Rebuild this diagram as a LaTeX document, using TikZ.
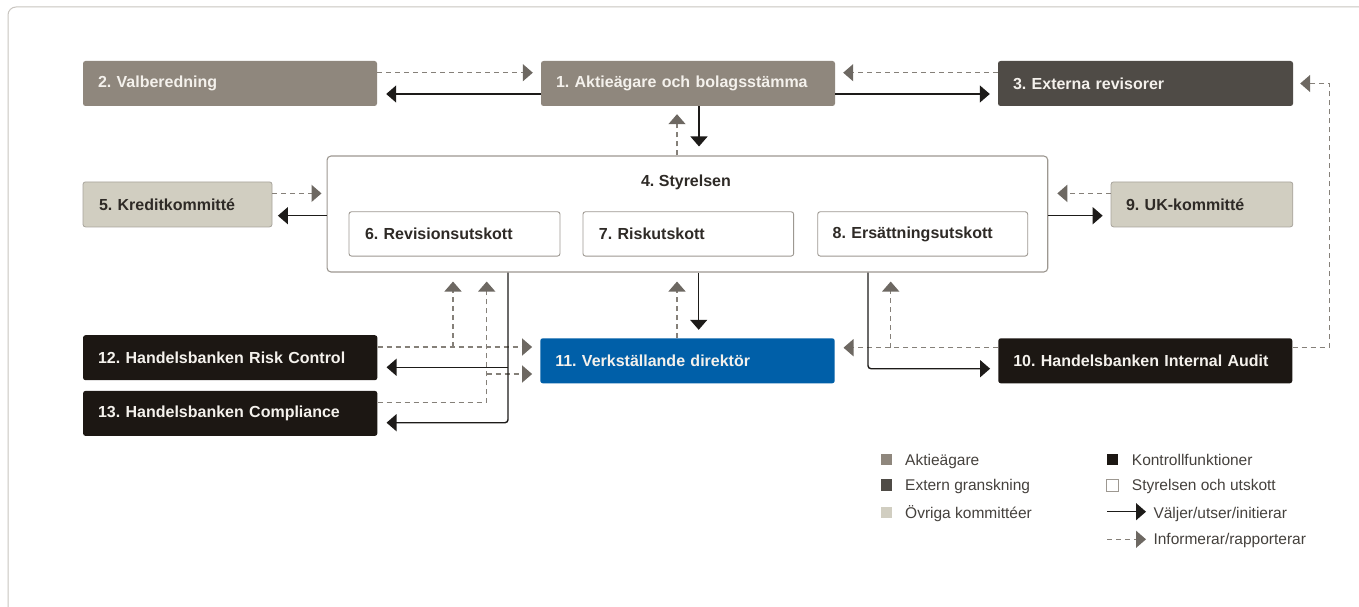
\documentclass[tikz,border=0pt]{standalone}
\usepackage{fontspec}
\setmainfont{Liberation Sans}
\usetikzlibrary{arrows.meta,calc}
\frenchspacing
\definecolor{cAkt}{HTML}{8F877D}
\definecolor{cExt}{HTML}{4F4B46}
\definecolor{cOvr}{HTML}{D1CEC1}
\definecolor{cOvrB}{HTML}{A8A49C}
\definecolor{cKon}{HTML}{1C1713}
\definecolor{cCeo}{HTML}{005FA8}
\definecolor{cBrd}{HTML}{9D9891}
\definecolor{cTxtL}{HTML}{F4F1EC}
\definecolor{cTxtD}{HTML}{2E2A26}
\definecolor{cDash}{HTML}{858079}
\definecolor{cDashTip}{HTML}{6D6862}
\definecolor{cSol}{HTML}{1D1B19}
\definecolor{cFrame}{HTML}{C9C5C0}
\definecolor{cLeg}{HTML}{45413D}
\newcommand\mylblfont{\frenchspacing\bfseries\fontsize{16}{19}\selectfont}
\newcommand\myleg{\frenchspacing\fontsize{15.5}{18}\selectfont}
\tikzset{
  bx/.style={rectangle, rounded corners=2.5pt, minimum height=45pt, inner xsep=15pt, inner ysep=0pt, align=left, font=\mylblfont},
  sol/.style={draw=cSol, line width=1.4pt, -{Triangle[length=10pt,width=17pt]}},
  dsh/.style={draw=cDash, line width=1.4pt, dash pattern=on 5pt off 4pt, -{Triangle[length=10pt,width=17pt,color=cDashTip]}},
  sq/.style={rectangle, minimum size=11.5pt, inner sep=0pt},
  lgt/.style={anchor=base west, inner sep=0pt, font=\myleg, text=cLeg},
}
\begin{document}
\begin{tikzpicture}[x=1pt,y=-1pt]
\useasboundingbox (0,0) rectangle (1359,607);
\fill[white] (0,0) rectangle (1359,607);
\draw[cFrame, line width=1pt, rounded corners=8pt] (8,640) -- (8,7) -- (1400,7);

% boxes
\node[bx, fill=cAkt, text=cTxtL, text width=264pt] (b2) at (230,83.5) {2. Valberedning};
\node[bx, fill=cAkt, text=cTxtL, text width=264pt] (b1) at (688,83.5) {1. Aktieägare och bolagsstämma};
\node[bx, fill=cExt, text=cTxtL, text width=265pt] (b3) at (1145.5,83.5) {3. Externa revisorer};
\node[rectangle, rounded corners=4pt, draw=cBrd, line width=1.1pt, fill=white, minimum width=720.7pt, minimum height=116pt, inner sep=0pt] (brd) at (687.4,214) {};
\node[font=\mylblfont, text=cTxtD] (brdt) at (686,182) {4. Styrelsen};
\node[bx, fill=cOvr, draw=cOvrB, line width=0.8pt, text=cTxtD, inner xsep=16pt, text width=157pt] (b5) at (177.5,204.4) {5. Kreditkommitté};
\node[bx, fill=cOvr, draw=cOvrB, line width=0.8pt, text=cTxtD, text width=151.7pt] (b9) at (1201.9,204.4) {9. UK-kommitté};
\node[bx, fill=white, draw=cBrd, line width=0.9pt, text=cTxtD, minimum height=44.3pt, inner xsep=16pt, text width=179pt] (b6) at (454.5,233.9) {6. Revisionsutskott};
\node[bx, fill=white, draw=cBrd, line width=0.9pt, text=cTxtD, minimum height=44.3pt, inner xsep=16pt, text width=178.7pt] (b7) at (688.3,233.9) {7. Riskutskott};
\node[bx, fill=white, draw=cBrd, line width=0.9pt, text=cTxtD, minimum height=44.3pt, text width=180pt] (b8) at (922.7,233.9) {8. Ersättningsutskott};
\node[bx, fill=cKon, text=cTxtL, text width=264.3pt] (b12) at (230.2,357.7) {12. Handelsbanken Risk Control};
\node[bx, fill=cKon, text=cTxtL, text width=264.3pt] (b13) at (230.2,413.4) {13. Handelsbanken Compliance};
\node[bx, fill=cCeo, text=cTxtL, text width=264.4pt] (ceo) at (687.5,360.8) {11. Verkställande direktör};
\node[bx, fill=cKon, text=cTxtL, text width=264pt] (b10) at (1145.3,360.8) {10. Handelsbanken Internal Audit};

% helper coordinates
\coordinate (a1) at ([yshift=10.8pt]b2.east);
\coordinate (a2) at ([yshift=-10.5pt]b1.west);
\coordinate (a3) at ([yshift=10.8pt]b3.west);
\coordinate (a4) at ([yshift=-10.5pt]b1.east);
\coordinate (a5) at ([xshift=11pt]b1.south);
\coordinate (a6) at ([xshift=-11pt]b1.south);
\coordinate (a7) at ([yshift=11pt]b5.east);
\coordinate (a8) at ([yshift=-11.3pt]b5.east);
\coordinate (a9) at ([yshift=11pt]b9.west);
\coordinate (a10) at ([yshift=-11.3pt]b9.west);
\coordinate (a11) at ([xshift=11.2pt]ceo.north);
\coordinate (a12) at ([xshift=-10.5pt]ceo.north);
\coordinate (r1) at ([yshift=10.7pt]b12.east);
\coordinate (ux1) at ([xshift=-1.5pt]b6.south);
\coordinate (c1) at ([yshift=11.1pt]b13.east);
\coordinate (ux2) at ([xshift=32.2pt]b6.south);
\coordinate (c2) at ([yshift=-13.2pt]ceo.west);
\coordinate (sx) at ([xshift=53.5pt]b6.south);
\coordinate (s12) at ([yshift=-9.6pt]b12.east);
\coordinate (s13) at ([yshift=-9.3pt]b13.east);
\coordinate (ix) at ([xshift=-54.7pt]b8.south);
\coordinate (i10) at ([yshift=-7.9pt]b10.west);
\coordinate (d10) at ([yshift=13.1pt]b10.west);
\coordinate (ux3) at ([xshift=-32pt]b8.south);
\coordinate (rx) at ([xshift=36.7pt]b10.east);

% dashed connectors
\draw[dsh, shorten >=8pt] (a1) -- (a1 -| b1.west);
\draw[dsh, shorten >=8pt] (a3) -- (a3 -| b1.east);
\draw[dsh, shorten >=8pt] (a6 |- brd.north) -- (a6);
\draw[dsh, shorten >=5pt] (a7) -- (a7 -| brd.west);
\draw[dsh, shorten >=9pt] (a9) -- (a9 -| brd.east);
\draw[dsh, shorten >=9pt] (a12) -- (a12 |- brd.south);
\draw[dsh, shorten >=8pt] (r1) -- (r1 -| ceo.west);
\draw[dsh, shorten >=9pt] (ux1 |- r1) -- (ux1 |- brd.south);
\draw[dsh, shorten >=9pt] (c1) -- (c1 -| ux2) -- (ux2 |- brd.south);
\draw[dsh, shorten >=8pt] (c2 -| ux2) -- (c2);
\draw[dsh, shorten >=8.6pt] (d10) -- (d10 -| ceo.east);
\draw[dsh, shorten >=9pt] (ux3 |- d10) -- (ux3 |- brd.south);
\draw[dsh, shorten >=7pt] (d10 -| b10.east) -- (d10 -| rx) -- (rx |- b3.east) -- (b3.east);

% solid connectors
\draw[sol, shorten >=9pt] (a2) -- (a2 -| b2.east);
\draw[sol, shorten >=8pt] (a4) -- (a4 -| b3.west);
\draw[sol, shorten >=9pt] (a5) -- (a5 |- brd.north);
\draw[sol, shorten >=5.5pt] (a8 -| brd.west) -- (a8);
\draw[sol, shorten >=8pt] (a10 -| brd.east) -- (a10);
\draw[sol, shorten >=8.3pt] (a11 |- brd.south) -- (a11);
\draw[sol, shorten >=9pt, rounded corners=3pt] (sx |- brd.south) |- (s13);
\draw[sol, shorten >=9pt] (sx |- s12) -- (s12);
\draw[sol, shorten >=8pt, rounded corners=3pt] (ix |- brd.south) |- (i10);

% legend
\node[sq, fill=cAkt] (lq1) at (886.5,459.5) {};
\node[lgt] (lt1) at (905,465.2) {Aktieägare};
\node[sq, fill=cExt] (lq2) at (886.5,485.2) {};
\node[lgt] (lt2) at (905,490.7) {Extern granskning};
\node[sq, fill=cOvr] (lq3) at (886.5,512.5) {};
\node[lgt] (lt3) at (905,518.2) {Övriga kommittéer};
\node[sq, fill=cKon] (lq4) at (1112.5,459.5) {};
\node[lgt] (lt4) at (1131.7,465.2) {Kontrollfunktioner};
\node[sq, fill=white, draw=cBrd, line width=0.8pt] (lq5) at (1112.5,485.2) {};
\node[lgt] (lt5) at (1131.7,490.7) {Styrelsen och utskott};
\coordinate (la1) at (1107,511.7);
\coordinate (la2) at (1146,511.7);
\draw[sol] (la1) -- (la2);
\node[lgt] (lt6) at (1153.3,518.2) {Väljer/utser/initierar};
\coordinate (lb1) at (1107,539.3);
\coordinate (lb2) at (1146,539.3);
\draw[dsh] (lb1) -- (lb2);
\node[lgt] (lt7) at (1153.3,544.3) {Informerar/rapporterar};
\end{tikzpicture}
\end{document}
